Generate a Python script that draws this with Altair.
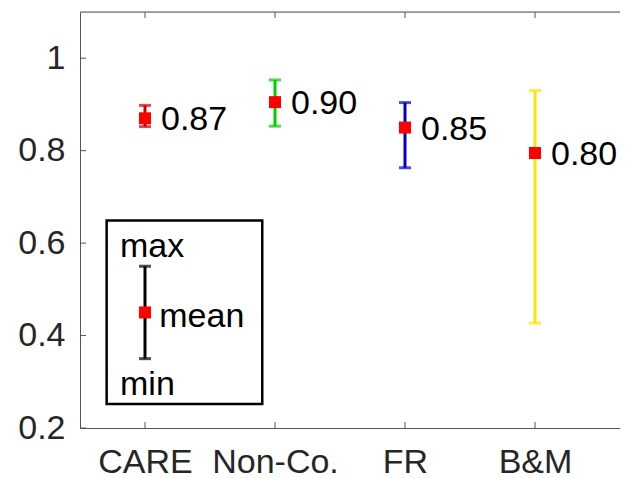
import altair as alt
import pandas as pd

# ---- data ----
categories = ["CARE", "Non-Co.", "FR", "B&M"]
means = [0.87, 0.905, 0.85, 0.795]
maxs = [0.898, 0.953, 0.904, 0.930]
mins = [0.852, 0.853, 0.763, 0.427]
mean_labels = ["0.87", "0.90", "0.85", "0.80"]
bar_colors = ["#c80000", "#00cc00", "#0000cc", "#ffe600"]

y_ticks = [0.2, 0.4, 0.6, 0.8, 1.0]
x_ticks = [1, 2, 3, 4]

# legend (key) annotation, in data coordinates
key_box = {"x": 0.705, "x2": 1.902, "y": 0.252, "y2": 0.649}
key_bar = {"x": 1, "mean": 0.45, "min": 0.35, "max": 0.55}
key_texts = ["max", "mean", "min"]
key_text_x = [0.808, 1.110, 0.808]
key_text_y = [0.569, 0.418, 0.271]

W, H = 540, 416
X_DOM = [0.5, 0.5 + W / 130.0]
Y_DOM = [0.2, 1.1]
FONT = "Liberation Sans"
FS = 34

df = pd.DataFrame({
    "idx": list(range(1, len(categories) + 1)),
    "cat": categories,
    "mean": means,
    "max": maxs,
    "min": mins,
    "lab": mean_labels,
})

label_expr = "[" + ",".join("'" + c + "'" for c in categories) + "][datum.value - 1]"

xs = alt.Scale(domain=X_DOM, nice=False, zero=False)
ys = alt.Scale(domain=Y_DOM, nice=False, zero=False)
cscale = alt.Scale(domain=categories, range=bar_colors)

X = alt.X("idx:Q", scale=xs, axis=alt.Axis(
    values=x_ticks, labelExpr=label_expr, title=None, grid=False,
    ticks=False, domainColor="#555555", domainWidth=1,
    labelFont=FONT, labelFontSize=FS, labelColor="#262626",
    labelPadding=17, labelFlush=False))
Y = alt.Y("mean:Q", scale=ys, axis=alt.Axis(
    values=y_ticks, labelExpr="datum.value == 1 ? '1' : format(datum.value, '.1f')",
    title=None, grid=False, ticks=False, domainColor="#555555", domainWidth=1,
    labelFont=FONT, labelFontSize=FS, labelColor="#262626",
    labelPadding=15, labelBaseline="middle"))

base = alt.Chart(df)

bars = base.mark_rule(strokeWidth=3).encode(
    x=X, y=alt.Y("min:Q", scale=ys), y2="max:Q",
    color=alt.Color("cat:N", scale=cscale, legend=None))
cap_hi = base.mark_tick(orient="horizontal", size=12, thickness=3).encode(
    x=alt.X("idx:Q", scale=xs), y=alt.Y("max:Q", scale=ys),
    color=alt.Color("cat:N", scale=cscale, legend=None))
cap_lo = base.mark_tick(orient="horizontal", size=12, thickness=3).encode(
    x=alt.X("idx:Q", scale=xs), y=alt.Y("min:Q", scale=ys),
    color=alt.Color("cat:N", scale=cscale, legend=None))
pts = base.mark_square(size=144, color="#ff0000", opacity=1, filled=True).encode(
    x=alt.X("idx:Q", scale=xs), y=Y)
labs = base.mark_text(align="left", baseline="middle", dx=16, dy=2,
                      font=FONT, fontSize=FS, color="black").encode(
    x=alt.X("idx:Q", scale=xs), y=alt.Y("mean:Q", scale=ys), text="lab:N")

# key
kb = pd.DataFrame([key_box])
key_rect = alt.Chart(kb).mark_rect(fill=None, stroke="black", strokeWidth=2.5).encode(
    x=alt.X("x:Q", scale=xs), x2="x2:Q", y=alt.Y("y:Q", scale=ys), y2="y2:Q")
kd = pd.DataFrame([key_bar])
key_rule = alt.Chart(kd).mark_rule(strokeWidth=3, color="black").encode(
    x=alt.X("x:Q", scale=xs), y=alt.Y("min:Q", scale=ys), y2="max:Q")
key_cap1 = alt.Chart(kd).mark_tick(orient="horizontal", size=12, thickness=3, color="black").encode(
    x=alt.X("x:Q", scale=xs), y=alt.Y("max:Q", scale=ys))
key_cap2 = alt.Chart(kd).mark_tick(orient="horizontal", size=12, thickness=3, color="black").encode(
    x=alt.X("x:Q", scale=xs), y=alt.Y("min:Q", scale=ys))
key_pt = alt.Chart(kd).mark_square(size=144, color="#ff0000", opacity=1, filled=True).encode(
    x=alt.X("x:Q", scale=xs), y=alt.Y("mean:Q", scale=ys))
kt = pd.DataFrame({"t": key_texts, "x": key_text_x, "y": key_text_y})
key_txt = alt.Chart(kt).mark_text(align="left", baseline="alphabetic",
                                  font=FONT, fontSize=FS, color="black").encode(
    x=alt.X("x:Q", scale=xs), y=alt.Y("y:Q", scale=ys), text="t:N")

# inward ticks and top border
yt = pd.DataFrame({"v": y_ticks})
xt = pd.DataFrame({"v": x_ticks})
left_ticks = alt.Chart(yt).mark_rule(color="#555555", strokeWidth=1).encode(
    y=alt.Y("v:Q", scale=ys), x=alt.value(0), x2=alt.value(6))
bot_ticks = alt.Chart(xt).mark_rule(color="#555555", strokeWidth=1).encode(
    x=alt.X("v:Q", scale=xs), y=alt.value(H), y2=alt.value(H - 6))
top_ticks = alt.Chart(xt).mark_rule(color="#555555", strokeWidth=1).encode(
    x=alt.X("v:Q", scale=xs), y=alt.value(0), y2=alt.value(6))
top_line = alt.Chart(pd.DataFrame({"a": [0]})).mark_rule(color="#555555", strokeWidth=1).encode(
    x=alt.value(0), x2=alt.value(W), y=alt.value(0))

chart = alt.layer(
    left_ticks, bot_ticks, top_ticks, top_line,
    key_rect, key_rule, key_cap1, key_cap2, key_pt, key_txt,
    bars, cap_hi, cap_lo, pts, labs
).properties(
    width=W, height=H,
    autosize=alt.AutoSizeParams(type="none"),
    padding={"left": 72, "top": 4, "right": 0, "bottom": 52},
).configure_view(stroke=None).configure(background="white")

chart.save("out.html", embed_options={"renderer": "svg", "actions": False})
